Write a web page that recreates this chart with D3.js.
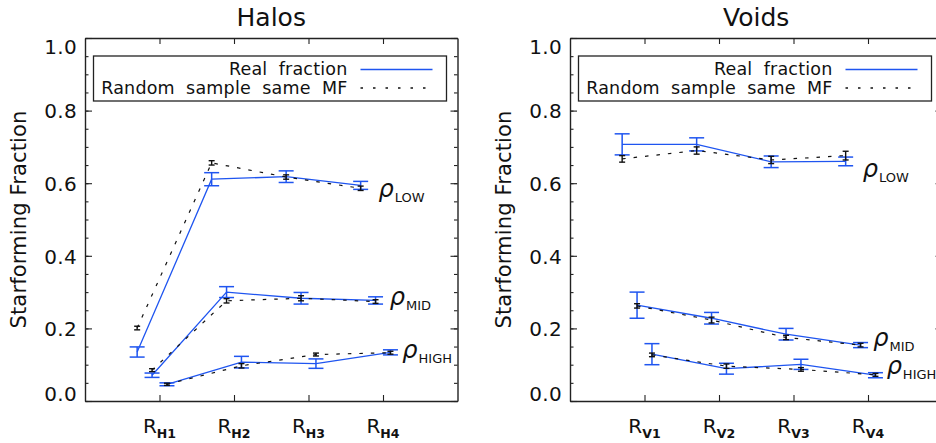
<!DOCTYPE html>
<html>
<head>
<meta charset="utf-8">
<script src="https://cdn.jsdelivr.net/npm/d3@7"></script>
<style>
  body { margin: 0; background: #fff; }
  svg { display: block; font-family: "DejaVu Sans", sans-serif; }
</style>
</head>
<body>
<svg id="chart" width="936" height="443"></svg>
<script>
// ---- categories and labels ----
const haloBins = ["H1", "H2", "H3", "H4"];
const voidBins = ["V1", "V2", "V3", "V4"];
const densityNames = ["LOW", "MID", "HIGH"];
const yTicks = [0, 0.2, 0.4, 0.6, 0.8, 1.0];
const yTickLabels = ["0.0", "0.2", "0.4", "0.6", "0.8", "1.0"];
const legendLabels = ["Real fraction", "Random sample same MF"];
const panelTitles = ["Halos", "Voids"];
const yAxisTitle = "Starforming Fraction";

// ---- Halos: star-forming fraction per bin (LOW, MID, HIGH density) ----
const halosRealLow  = [0.135, 0.611, 0.618, 0.594];
const halosRealLowErr  = [0.014, 0.018, 0.016, 0.011];
const halosRandLow  = [0.201, 0.656, 0.617, 0.586];
const halosRandLowErr  = [0.005, 0.006, 0.006, 0.006];
const halosRealMid  = [0.071, 0.300, 0.283, 0.277];
const halosRealMidErr  = [0.006, 0.015, 0.016, 0.010];
const halosRandMid  = [0.085, 0.276, 0.283, 0.274];
const halosRandMidErr  = [0.004, 0.006, 0.007, 0.005];
const halosRealHigh = [0.046, 0.107, 0.103, 0.134];
const halosRealHighErr = [0.004, 0.016, 0.013, 0.007];
const halosRandHigh = [0.046, 0.097, 0.128, 0.133];
const halosRandHighErr = [0.003, 0.006, 0.004, 0.004];

// ---- Voids ----
const voidsRealLow  = [0.707, 0.707, 0.659, 0.660];
const voidsRealLowErr  = [0.029, 0.018, 0.016, 0.012];
const voidsRandLow  = [0.667, 0.690, 0.664, 0.676];
const voidsRandLowErr  = [0.009, 0.010, 0.010, 0.012];
const voidsRealMid  = [0.264, 0.228, 0.184, 0.154];
const voidsRealMidErr  = [0.036, 0.016, 0.016, 0.007];
const voidsRandMid  = [0.262, 0.223, 0.175, 0.154];
const voidsRandMidErr  = [0.006, 0.008, 0.006, 0.005];
const voidsRealHigh = [0.129, 0.089, 0.101, 0.071];
const voidsRealHighErr = [0.029, 0.015, 0.014, 0.007];
const voidsRandHigh = [0.127, 0.096, 0.087, 0.072];
const voidsRandHighErr = [0.005, 0.006, 0.005, 0.004];

// density-label anchors, in data units (bin axis, fraction)
const halosLabelAnchors = [[3.94, 0.563], [4.09, 0.264], [4.26, 0.118]];
const voidsLabelAnchors = [[3.93, 0.618], [4.07, 0.152], [4.25, 0.075]];

// ---- layout ----
const BLUE = "#1f55f0";
const densityShift = [-0.3, -0.1, 0.1];   // horizontal offset of each density group
const plotTop = 38, plotBottom = 401, plotWidth = 372.5;
const panels = [
  { left: 85,  title: panelTitles[0], bins: haloBins,
    real: [halosRealLow, halosRealMid, halosRealHigh],
    realErr: [halosRealLowErr, halosRealMidErr, halosRealHighErr],
    rand: [halosRandLow, halosRandMid, halosRandHigh],
    randErr: [halosRandLowErr, halosRandMidErr, halosRandHighErr],
    anchors: halosLabelAnchors },
  { left: 570, title: panelTitles[1], bins: voidBins,
    real: [voidsRealLow, voidsRealMid, voidsRealHigh],
    realErr: [voidsRealLowErr, voidsRealMidErr, voidsRealHighErr],
    rand: [voidsRandLow, voidsRandMid, voidsRandHigh],
    randErr: [voidsRandLowErr, voidsRandMidErr, voidsRandHighErr],
    anchors: voidsLabelAnchors }
];

const svg = d3.select("#chart");
const minorTicks = d3.range(0, 1.0001, 0.05).map(v => +v.toFixed(2));

panels.forEach(p => {
  const x = d3.scaleLinear().domain([0, 5]).range([p.left, p.left + plotWidth]);
  const y = d3.scaleLinear().domain([0, 1]).range([plotBottom, plotTop]);
  const g = svg.append("g");

  // title
  g.append("text")
    .attr("x", (x.range()[0] + x.range()[1]) / 2).attr("y", 26)
    .attr("text-anchor", "middle").attr("font-size", 25).attr("fill", "#111")
    .text(p.title);

  // y-axis title
  g.append("text")
    .attr("transform", `translate(${p.left - 59},${(plotTop + plotBottom) / 2}) rotate(-90)`)
    .attr("text-anchor", "middle").attr("font-size", 21).attr("fill", "#111")
    .attr("letter-spacing", 0.15)
    .text(yAxisTitle);

  const styleAxis = sel => {
    sel.attr("font-family", null).attr("font-size", null);
    sel.selectAll("path.domain").attr("stroke", "#222").attr("stroke-width", 1.4);
    sel.selectAll(".tick line").attr("stroke", "#222").attr("stroke-width", 1.1);
  };

  // left axis: major ticks with labels, minor ticks
  const leftAxis = g.append("g").attr("transform", `translate(${p.left},0)`)
    .call(d3.axisLeft(y).tickValues(yTicks).tickSizeInner(-7).tickSizeOuter(0).tickPadding(8)
      .tickFormat((d, i) => yTickLabels[i]));
  styleAxis(leftAxis);
  leftAxis.selectAll(".tick text")
    .attr("font-size", 20).attr("fill", "#111").attr("letter-spacing", 0.3)
    .attr("dy", "0.36em")
    .attr("y", d => Math.min(Math.max(y(d), plotTop + 8), plotBottom - 8) - y(d));
  g.append("g").attr("transform", `translate(${p.left},0)`)
    .call(d3.axisLeft(y).tickValues(minorTicks).tickSize(-3.5).tickFormat(""))
    .call(styleAxis).call(s => s.select("path.domain").remove());

  // right axis
  const xr = p.left + plotWidth;
  g.append("g").attr("transform", `translate(${xr},0)`)
    .call(d3.axisRight(y).tickValues(yTicks).tickSizeInner(-7).tickSizeOuter(0).tickFormat(""))
    .call(styleAxis);
  g.append("g").attr("transform", `translate(${xr},0)`)
    .call(d3.axisRight(y).tickValues(minorTicks).tickSize(-3.5).tickFormat(""))
    .call(styleAxis).call(s => s.select("path.domain").remove());

  // top and bottom axes
  g.append("g").attr("transform", `translate(0,${plotTop})`)
    .call(d3.axisTop(x).tickValues([1, 2, 3, 4]).tickSizeInner(-6).tickSizeOuter(0).tickFormat(""))
    .call(styleAxis);
  g.append("g").attr("transform", `translate(0,${plotBottom})`)
    .call(d3.axisBottom(x).tickValues([1, 2, 3, 4]).tickSizeInner(-6).tickSizeOuter(0).tickFormat(""))
    .call(styleAxis);

  // bin labels R_xx
  p.bins.forEach((b, i) => {
    const t = g.append("text").attr("x", x(i + 1)).attr("y", 433)
      .attr("text-anchor", "middle").attr("fill", "#111");
    t.append("tspan").attr("font-size", 20).text("R");
    t.append("tspan").attr("font-size", 12.5).attr("font-weight", "bold").attr("dy", 5).text(b);
  });

  // legend box
  const lx = p.left + 8.5, ly = 56;
  g.append("rect").attr("x", lx).attr("y", ly).attr("width", 353).attr("height", 45)
    .attr("fill", "#fff").attr("stroke", "#222").attr("stroke-width", 1.3);
  legendLabels.forEach((lab, i) => {
    g.append("text").attr("x", lx + 254).attr("y", ly + 19 + i * 18.5)
      .attr("text-anchor", "end").attr("font-size", 17.5).attr("fill", "#111")
      .attr("word-spacing", 5.5).attr("letter-spacing", 0.2).text(lab);
    g.append("line").attr("x1", lx + 267).attr("x2", lx + 339)
      .attr("y1", ly + 13.5 + i * 18.5).attr("y2", ly + 13.5 + i * 18.5)
      .attr("stroke", i === 0 ? BLUE : "#111").attr("stroke-width", i === 0 ? 1.3 : 1.5)
      .attr("stroke-dasharray", i === 0 ? null : "2.5,10");
  });

  const line = d3.line().x(d => x(d[0])).y(d => y(d[1]));

  const drawSeries = (vals, errs, k, color, dash, cap, lw) => {
    const pts = vals.map((v, i) => [i + 1 + densityShift[k], v, errs[i]]);
    g.append("path").datum(pts).attr("d", line)
      .attr("fill", "none").attr("stroke", color).attr("stroke-width", lw)
      .attr("stroke-dasharray", dash);
    const eb = g.append("g").attr("stroke", color).attr("stroke-width", lw + 0.2);
    pts.forEach(([px, v, e]) => {
      const cx = x(px);
      eb.append("line").attr("x1", cx).attr("x2", cx).attr("y1", y(v - e)).attr("y2", y(v + e));
      [v - e, v + e].forEach(yy => {
        eb.append("line").attr("x1", cx - cap).attr("x2", cx + cap)
          .attr("y1", y(yy)).attr("y2", y(yy));
      });
    });
  };

  densityNames.forEach((name, k) => {
    drawSeries(p.real[k], p.realErr[k], k, BLUE, null, 7.5, 1.3);
    drawSeries(p.rand[k], p.randErr[k], k, "#111", "3.5,8", 3, 1.2);
  });

  // density labels
  densityNames.forEach((name, k) => {
    const [ax, ay] = p.anchors[k];
    const t = g.append("text").attr("x", x(ax)).attr("y", y(ay)).attr("fill", "#111");
    t.append("tspan").attr("font-size", 24).attr("font-style", "italic").text("ρ");
    t.append("tspan").attr("font-size", 13).attr("dy", 5).attr("dx", 1).text(name);
  });
});
</script>
</body>
</html>
